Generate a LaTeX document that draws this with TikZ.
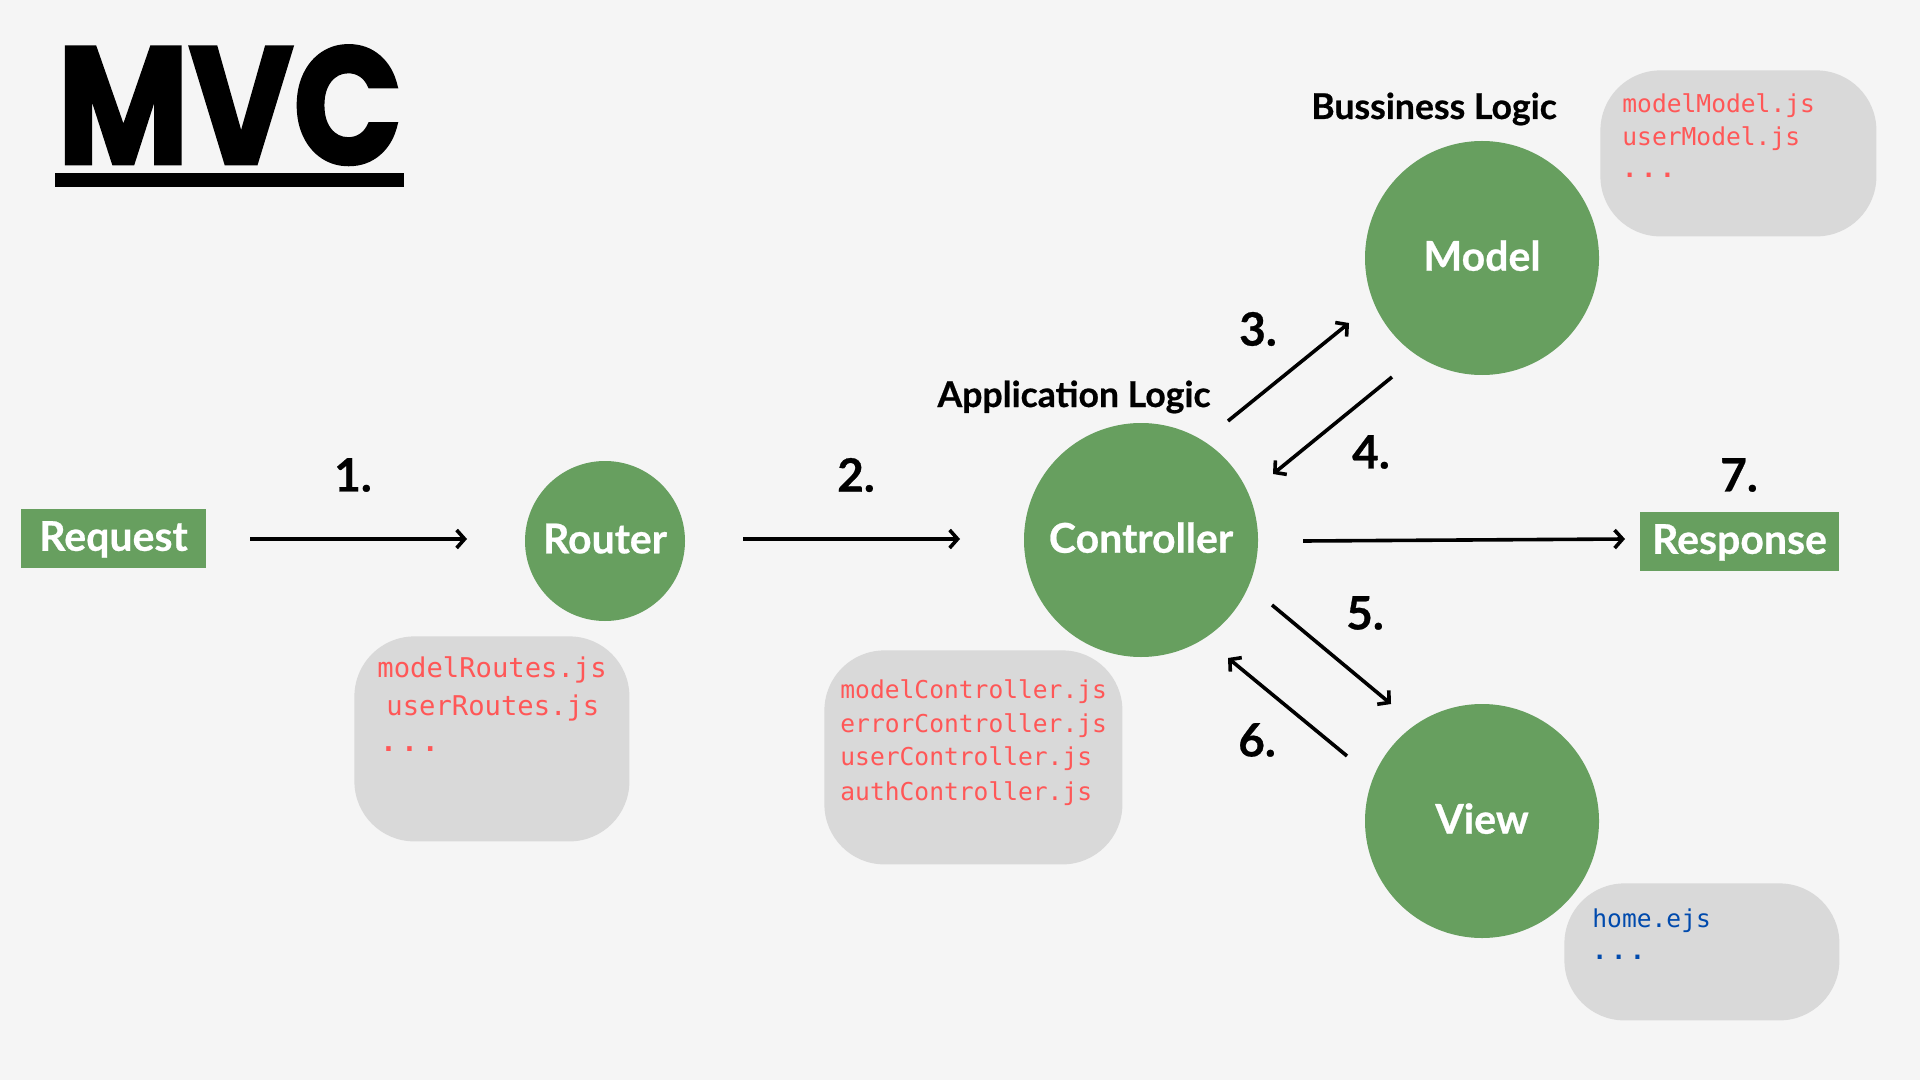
\documentclass[tikz,border=0pt]{standalone}
\usepackage{fontspec}
\setmainfont{Lato}[BoldFeatures={FakeBold=0.6}]
\setmonofont{DejaVu Sans Mono}
\newfontfamily\titlefont{Poppins}[BoldFeatures={FakeBold=2}]
\usetikzlibrary{arrows.meta}
\definecolor{bg}{HTML}{F5F5F5}
\definecolor{grn}{HTML}{679F5F}
\definecolor{boxgray}{HTML}{D9D9D9}
\definecolor{codered}{HTML}{FF5757}
\definecolor{codeblue}{HTML}{004AAD}
\begin{document}
\begin{tikzpicture}[x=0.5pt,y=-0.5pt,
  greencirc/.style={circle, fill=grn, text=white, inner sep=0pt, minimum size=#1, text depth=0.25em,
    font=\bfseries\fontsize{20.5}{24}\selectfont},
  greenrect/.style={rectangle, fill=grn, text=white, inner sep=0pt, text depth=0.25em,
    minimum height=29.5pt, font=\bfseries\fontsize{20.5}{24}\selectfont},
  filebox/.style={rectangle, fill=boxgray, rounded corners=30pt, inner sep=0pt, anchor=north west},
  code/.style={anchor=base west, inner sep=0pt, text=codered, font=\ttfamily\fontsize{12.3}{14}\selectfont},
  bigcode/.style={code, font=\ttfamily\fontsize{13.6}{15}\selectfont},
  bluecode/.style={code, text=codeblue},
  num/.style={inner sep=0pt, font=\bfseries\fontsize{23}{26}\selectfont},
  logic/.style={anchor=base, inner sep=0pt, font=\bfseries\fontsize{17.8}{20}\selectfont},
  arr/.style={line width=1.8pt, -{Straight Barb[length=4pt,width=9pt]}}
]
\fill[bg] (0,0) rectangle (1920,1080);
\useasboundingbox (0,0) rectangle (1920,1080);

% title
\node[anchor=south west, inner sep=0pt] (title) at (57,165) {\resizebox{172.5pt}{59pt}{\titlefont\bfseries MVC}};
\node[fill=black, anchor=north west, inner sep=0pt, minimum width=174.5pt, minimum height=7pt] (uline) at (55,173) {};

% file boxes
\node[filebox, minimum width=137.5pt, minimum height=102.5pt] (rbox) at (354,636) {};
\node[filebox, minimum width=149pt, minimum height=107pt] (cbox) at (824,650) {};
\node[filebox, minimum width=138pt, minimum height=83pt] (mbox) at (1600,70) {};
\node[filebox, minimum width=137.5pt, minimum height=68.5pt] (vbox) at (1564,883) {};

\node[bigcode] (r1) at (377,677) {modelRoutes.js};
\node[bigcode] (r2) at (386,715) {userRoutes.js};
\node[bigcode] (r3) at (380,751) {\bfseries .\,.\,.};

\node[code] (c1) at (840,698) {modelController.js};
\node[code] (c2) at (840,732) {errorController.js};
\node[code] (c3) at (840,765) {userController.js};
\node[code] (c4) at (840,800) {authController.js};

\node[code] (m1) at (1622,113) {modelModel.js};
\node[code] (m2) at (1622,146) {userModel.js};
\node[code] (m3) at (1622,178) {\bfseries .\,.\,.};

\node[bluecode] (v1) at (1592,927) {home.ejs};
\node[bluecode] (v2) at (1592,959) {\bfseries .\,.\,.};

% main nodes
\node[greenrect, minimum width=92.5pt] (req) at (113.5,538.5) {Request\hspace{6pt}};
\node[greencirc=80pt] (router) at (605,541) {Router};
\node[greencirc=117pt] (ctrl) at (1141,540) {Controller};
\node[greencirc=117pt] (model) at (1482,258) {Model};
\node[greencirc=117pt] (view) at (1482,821) {View};
\node[greenrect, minimum width=99.5pt] (resp) at (1739.5,541.5) {Response};

% labels
\node[logic] (applog) at (1074,407) {Application Logic};
\node[logic] (buslog) at (1434,119) {Bussiness Logic};

\node[num] (n1) at (353,475) {1.};
\node[num] (n2) at (856,475) {2.};
\node[num] (n3) at (1258,329) {3.};
\node[num] (n4) at (1371,452) {4.};
\node[num] (n5) at (1365,613) {5.};
\node[num] (n6) at (1257,740) {6.};
\node[num] (n7) at (1739,475) {7.};

% connector ends
\coordinate (a3s) at (1228,421);
\coordinate (a3e) at (1349,323);
\coordinate (a4s) at (1392,377);
\coordinate (a4e) at (1273,474);
\coordinate (a5s) at (1272,605);
\coordinate (a5e) at (1391,704);
\coordinate (a6s) at (1347,756);
\coordinate (a6e) at (1228,658);
\coordinate (a7s) at (1303,541);
\coordinate (a7e) at (1625,539);
\coordinate (a1s) at (250,539);
\coordinate (a1e) at (467,539);
\coordinate (a2s) at (743,539);
\coordinate (a2e) at (960,539);

\draw[arr] (a1s) -- (a1e);
\draw[arr] (a2s) -- (a2e);
\draw[arr] (a3s) -- (a3e);
\draw[arr] (a4s) -- (a4e);
\draw[arr] (a5s) -- (a5e);
\draw[arr] (a6s) -- (a6e);
\draw[arr] (a7s) -- (a7e);
\end{tikzpicture}
\end{document}
